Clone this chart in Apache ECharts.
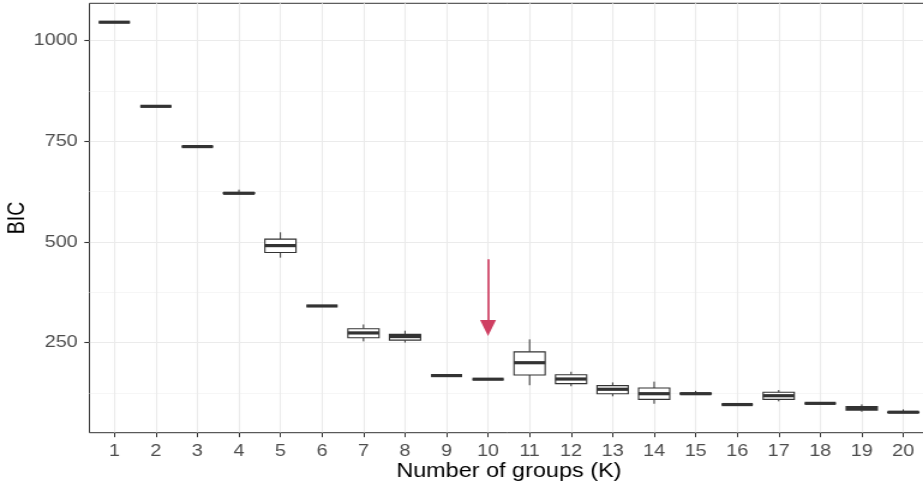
<!DOCTYPE html>
<html>
<head>
<meta charset="utf-8">
<script src="https://cdn.jsdelivr.net/npm/echarts@6/dist/echarts.min.js"></script>
<style>
html,body{margin:0;padding:0;background:#fff;overflow:hidden;width:923px;height:492px;}
#chart{width:769px;height:492px;transform:scaleX(1.2003);transform-origin:0 0;}
</style>
</head>
<body>
<div id="chart"></div>
<script>
// Number of groups (K)
const groups = [1,2,3,4,5,6,7,8,9,10,11,12,13,14,15,16,17,18,19,20];
// BIC box statistics per K: [min, Q1, median, Q3, max]
const bicMin = [1046, 837, 737, 619, 461, 341, 253, 250, 168, 159, 144, 141.5, 116.5, 98, 121, 96, 104, 99, 78, 76];
const bicQ1  = [1046, 837, 737, 620, 474, 341, 262, 256, 168, 159, 169.5, 148, 123, 109, 122, 96, 109, 99, 82, 76];
const bicMed = [1046, 837, 737, 621, 491, 341, 274, 265, 168, 159, 200, 159.5, 134, 123, 123, 96, 118, 99, 86.5, 77];
const bicQ3  = [1046, 837, 737, 623, 507, 341, 284.5, 270.5, 168, 159, 227, 170, 143, 137, 124.5, 96, 126.5, 99, 91, 77.5];
const bicMax = [1046, 837, 737, 630, 524, 341, 295, 279.5, 168, 159, 258, 177.5, 151, 153, 130, 96, 132, 99, 96.5, 84];
// Axis ticks
const yTicks = [250, 500, 750, 1000];
const yMinorTicks = [125, 375, 625, 875];
const yRange = [26.1, 1093];
const xRange = [0.4, 20.6];
// Highlight arrow at K = 10: [x, yStart, yEnd]
const arrowK = 10;
const arrowFrom = 457;
const arrowTo = 286;

const boxData = groups.map((k, i) => [k, bicMin[i], bicQ1[i], bicMed[i], bicQ3[i], bicMax[i]]);

const ink = '#333333';
function renderBox(params, api) {
  const x = api.value(0);
  const pLo = api.coord([x, api.value(1)]);
  const pQ1 = api.coord([x, api.value(2)]);
  const pMd = api.coord([x, api.value(3)]);
  const pQ3 = api.coord([x, api.value(4)]);
  const pHi = api.coord([x, api.value(5)]);
  const w = api.size([0.75, 0])[0];
  const cx = pMd[0];
  const st = {stroke: ink, lineWidth: 1.0, fill: null};
  return {
    type: 'group',
    children: [
      {type: 'line', shape: {x1: cx, y1: pHi[1], x2: cx, y2: pQ3[1]}, style: st},
      {type: 'line', shape: {x1: cx, y1: pQ1[1], x2: cx, y2: pLo[1]}, style: st},
      {type: 'rect', shape: {x: cx - w / 2, y: pQ3[1], width: w, height: pQ1[1] - pQ3[1]},
        style: {stroke: ink, lineWidth: 1.1, fill: '#ffffff'}},
      {type: 'line', shape: {x1: cx - w / 2, y1: pMd[1], x2: cx + w / 2, y2: pMd[1]},
        style: {stroke: ink, lineWidth: 3.2}}
    ]
  };
}

const font = 'Liberation Sans, Arial, sans-serif';
const chart = echarts.init(document.getElementById('chart'), null, {renderer: 'canvas'});
chart.setOption({
  animation: false,
  backgroundColor: '#ffffff',
  grid: {left: 74.5, right: -4.3, top: 3.3, bottom: 59.3, show: true,
    containLabel: false, outerBoundsMode: 'none',
    borderColor: ink, borderWidth: 1.0, backgroundColor: '#ffffff'},
  xAxis: {
    type: 'value', min: xRange[0], max: xRange[1],
    name: 'Number of groups (K)', nameLocation: 'middle', nameGap: 29, nameMoveOverlap: false,
    nameTextStyle: {color: '#000000', fontSize: 19.5, fontFamily: font},
    axisLine: {show: false},
    axisTick: {show: true, customValues: groups, length: 4.5, lineStyle: {color: ink, width: 1.0}},
    axisLabel: {show: true, customValues: groups, margin: 10, color: '#4d4d4d', fontSize: 16.5, fontFamily: font},
    splitLine: {show: true, lineStyle: {color: '#ebebeb', width: 1.1}}
  },
  yAxis: [{
    type: 'value', min: yRange[0], max: yRange[1],
    name: 'BIC', nameLocation: 'middle', nameGap: 50, nameMoveOverlap: false,
    nameTextStyle: {color: '#000000', fontSize: 19.5, fontFamily: font},
    axisLine: {show: false},
    axisTick: {show: true, customValues: yTicks, length: 4.2, lineStyle: {color: ink, width: 1.1}},
    axisLabel: {show: true, customValues: yTicks, margin: 9.75, color: '#4d4d4d', fontSize: 16.5, fontFamily: font,
      formatter: (v) => String(v)},
    splitLine: {show: true, lineStyle: {color: '#ebebeb', width: 1.1}}
  }, {
    type: 'value', min: yRange[0], max: yRange[1], position: 'left',
    axisLine: {show: false},
    axisTick: {show: false, customValues: yMinorTicks},
    axisLabel: {show: false, customValues: yMinorTicks},
    splitLine: {show: true, lineStyle: {color: '#f2f2f2', width: 0.7}}
  }],
  series: [{
    type: 'custom',
    renderItem: renderBox,
    encode: {x: 0, y: [1, 2, 3, 4, 5]},
    data: boxData,
    z: 5
  }, {
    type: 'line',
    data: [],
    markLine: {
      silent: true,
      animation: false,
      symbol: ['none', 'triangle'],
      symbolSize: [13.3, 16],
      label: {show: false},
      lineStyle: {color: '#cf3f62', width: 1.7, type: 'solid'},
      emphasis: {disabled: true},
      data: [[{coord: [arrowK, arrowFrom]}, {coord: [arrowK, arrowTo]}]]
    },
    z: 6
  }]
});
</script>
</body>
</html>
